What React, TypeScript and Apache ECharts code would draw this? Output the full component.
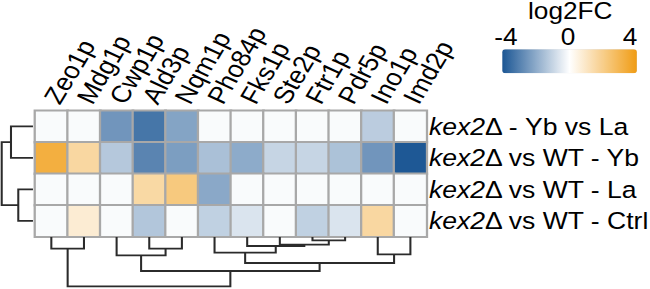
import React, { useEffect, useRef } from 'react';
import * as echarts from 'echarts';

// ---- data ----
const genes = ['Zeo1p', 'Mdg1p', 'Cwp1p', 'Ald3p', 'Nqm1p', 'Pho84p', 'Fks1p', 'Ste2p', 'Ftr1p', 'Pdr5p', 'Ino1p', 'Imd2p'];
const comparisons = ['kex2Δ - Yb vs La', 'kex2Δ vs WT - Yb', 'kex2Δ vs WT - La', 'kex2Δ vs WT - Ctrl'];
const rowYbVsLa = [-0.1, -0.1, -2.5, -3.25, -2.15, -0.1, -0.1, -0.1, -0.1, -0.1, -1.2, -0.1];
const rowWtYb = [3.25, 1.6, -1.3, -2.9, -2.3, -1.5, -2.0, -1.0, -1.0, -1.45, -2.5, -3.95];
const rowWtLa = [-0.1, -0.1, -0.1, 1.55, 2.2, -2.05, -0.1, -0.1, -0.1, -0.1, -0.1, -0.1];
const rowWtCtrl = [-0.1, 0.75, -0.1, -1.35, -0.1, -1.1, -0.65, -0.1, -1.1, -0.65, 1.6, -0.1];
const colorRange = [-4, 4];
const colorTickInterval = 4;
// column dendrogram: merges of node ids (0..11 leaves, 12+ internal nodes in order) and heights
const colMerges = [[0, 1], [3, 4], [2, 13], [8, 9], [7, 15], [6, 16], [5, 17], [10, 11], [18, 19], [14, 20], [12, 21]];
const colHeights = [11.7, 11.7, 18.3, 3.3, 7.7, 9, 15.7, 17.3, 26, 34, 49.3];
// row dendrogram
const rowMerges = [[0, 1], [2, 3], [4, 5]];
const rowHeights = [22, 14.7, 31.3];

const FONT = '"Liberation Sans", Arial, Helvetica, sans-serif';
const CHART_W = 570;
const STRETCH = 650 / CHART_W;

function dendroSegments(nLeaves: number, merges: number[][], heights: number[]) {
  const pos: number[] = [];
  const ht: number[] = [];
  for (let i = 0; i < nLeaves; i++) { pos.push(i); ht.push(0); }
  return merges.map(([a, b], k) => {
    const seg = [pos[a], ht[a], pos[b], ht[b], heights[k]];
    pos.push((pos[a] + pos[b]) / 2);
    ht.push(heights[k]);
    return seg;
  });
}

export default function App() {
  const ref = useRef<HTMLDivElement>(null);
  useEffect(() => {
    if (!ref.current) return;
    const chart = echarts.init(ref.current, undefined, { renderer: 'svg', width: CHART_W, height: 289 });
    const rows = [rowYbVsLa, rowWtYb, rowWtLa, rowWtCtrl];
    const heat: number[][] = [];
    rows.forEach((row, r) => row.forEach((v, c) => heat.push([c, r, v])));
    const colSeg = dendroSegments(genes.length, colMerges, colHeights);
    const rowSeg = dendroSegments(comparisons.length, rowMerges, rowHeights);
    const lineStyle = { stroke: '#2b2b2b', lineWidth: 1.8, fill: 'none' };
    const gridBase = { outerBoundsMode: 'none', containLabel: false };

    const option: any = {
      animation: false,
      backgroundColor: '#ffffff',
      title: {
        text: 'log2FC', left: 463, top: 0, padding: 0,
        textStyle: { fontSize: 23, fontWeight: 'normal', color: '#000', fontFamily: FONT },
      },
      grid: [
        { ...gridBase, left: 30.7, right: 195.8, top: 110.7, height: 126 },
        { ...gridBase, left: 30.7, right: 195.8, top: 237, height: 49.3 },
        { ...gridBase, left: 1.5, width: 27.4, top: 110.7, height: 126 },
        { ...gridBase, left: 443.7, width: 108.9, top: 49.3, height: 24 },
      ],
      xAxis: [
        {
          type: 'category', data: genes, gridIndex: 0, position: 'top',
          axisLine: { show: false }, axisTick: { show: false }, splitLine: { show: false },
          axisLabel: { interval: 0, rotate: -62, fontSize: 24, margin: 9, color: '#000', fontFamily: FONT },
        },
        { type: 'value', gridIndex: 1, min: -0.5, max: genes.length - 0.5, show: false },
        { type: 'value', gridIndex: 2, min: 0, max: rowHeights[rowHeights.length - 1], inverse: true, show: false },
        {
          type: 'value', gridIndex: 3, min: colorRange[0], max: colorRange[1], interval: colorTickInterval,
          position: 'top', axisLine: { show: false }, axisTick: { show: false }, splitLine: { show: false },
          axisLabel: { fontSize: 23, margin: 1, color: '#000', fontFamily: FONT },
        },
      ],
      yAxis: [
        {
          type: 'category', data: comparisons, gridIndex: 0, inverse: true, position: 'right',
          axisLine: { show: false }, axisTick: { show: false }, splitLine: { show: false },
          axisLabel: {
            margin: 2,
            formatter: (v: string) => {
              const m = v.match(/^(kex2)(.*)$/);
              return m ? `{i|${m[1]}}{n|${m[2]}}` : `{n|${v}}`;
            },
            rich: {
              i: { fontStyle: 'italic', fontSize: 23.3, fontFamily: FONT, color: '#000' },
              n: { fontSize: 23.3, fontFamily: FONT, color: '#000' },
            },
          },
        },
        { type: 'value', gridIndex: 1, min: 0, max: colHeights[colHeights.length - 1], inverse: true, show: false },
        { type: 'value', gridIndex: 2, min: -0.5, max: comparisons.length - 0.5, inverse: true, show: false },
        { type: 'value', gridIndex: 3, min: 0, max: 1, show: false },
      ],
      visualMap: {
        type: 'continuous', min: colorRange[0], max: colorRange[1], orient: 'horizontal',
        left: 440.4, top: 49.3, itemWidth: 24, itemHeight: 118.1, padding: 0,
        calculable: false, seriesIndex: 0, hoverLink: false,
        inRange: { color: ['#1b5694', '#ffffff', '#f09c14'] },
      },
      series: [
        {
          type: 'heatmap', xAxisIndex: 0, yAxisIndex: 0, data: heat,
          itemStyle: { borderColor: '#a8a8a8', borderWidth: 2 },
          emphasis: { disabled: true },
        },
        {
          type: 'custom', xAxisIndex: 1, yAxisIndex: 1, data: colSeg, silent: true,
          renderItem: (_p: any, api: any) => {
            const pa = api.value(0), ha = api.value(1), pb = api.value(2), hb = api.value(3), h = api.value(4);
            return {
              type: 'polyline',
              shape: { points: [api.coord([pa, ha]), api.coord([pa, h]), api.coord([pb, h]), api.coord([pb, hb])] },
              style: lineStyle,
            };
          },
        },
        {
          type: 'custom', xAxisIndex: 2, yAxisIndex: 2, data: rowSeg, silent: true,
          renderItem: (_p: any, api: any) => {
            const pa = api.value(0), ha = api.value(1), pb = api.value(2), hb = api.value(3), h = api.value(4);
            return {
              type: 'polyline',
              shape: { points: [api.coord([ha, pa]), api.coord([h, pa]), api.coord([h, pb]), api.coord([hb, pb])] },
              style: lineStyle,
            };
          },
        },
      ],
    };
    chart.setOption(option);
    return () => chart.dispose();
  }, []);

  return (
    <div style={{ position: 'fixed', left: 0, top: 0, width: 650, height: 289, overflow: 'hidden', background: '#fff' }}>
      <div
        ref={ref}
        style={{ width: CHART_W, height: 289, transform: `scaleX(${STRETCH})`, transformOrigin: '0 0' }}
      />
    </div>
  );
}
